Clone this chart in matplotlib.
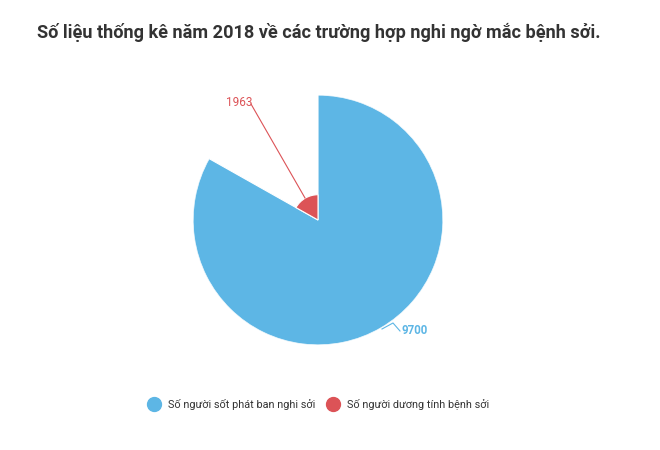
import numpy as np
import matplotlib.pyplot as plt
from matplotlib.lines import Line2D

plt.rcParams['font.family'] = ['Roboto', 'DejaVu Sans']

title = "Số liệu thống kê năm 2018 về các trường hợp nghi ngờ mắc bệnh sởi."
categories = ["Số người sốt phát ban nghi sởi", "Số người dương tính bệnh sởi"]
values = [9700, 1963]
colors = ["#5db6e5", "#dc5357"]

W, H = 660, 450


def px(x, y):
    # pixel coords (from top-left) -> figure fraction
    return x / W, 1 - y / H


fig = plt.figure(figsize=(6.6, 4.5), dpi=100)

cx, cy, R = 318, 220, 125
l, b = px(cx - R, cy + R)
ax = fig.add_axes([l, b, 2 * R / W, 2 * R / H], projection="polar")
ax.set_theta_zero_location("N")
ax.set_theta_direction(-1)

vals = np.array(values, dtype=float)
widths = vals / vals.sum() * 2 * np.pi
starts = np.concatenate([[0], np.cumsum(widths)[:-1]])
ax.bar(starts, vals, width=widths, align="edge", color=colors,
       edgecolor="white", linewidth=0.8)
ax.set_ylim(0, vals.max())
ax.set_axis_off()

# labels with leader lines
fig.add_artist(Line2D([305 / W, 251 / W], [1 - 198 / H, 1 - 104 / H],
                      color=colors[1], lw=0.8))
fig.text(*px(239.5, 102), str(values[1]), color=colors[1], fontsize=8.5,
         ha="center", va="center")

xs = [382, 393, 400]
ys = [329, 323, 331]
fig.add_artist(Line2D([x / W for x in xs], [1 - y / H for y in ys],
                      color=colors[0], lw=0.8))
fig.text(*px(401, 331), str(values[0]), color=colors[0], fontsize=8.3,
         ha="left", va="center", fontweight="bold")

fig.text(*px(37, 32), title, fontsize=13.05, fontweight="bold",
         color="#333333", ha="left", va="center")

handles = [Line2D([], [], marker="o", ls="", markersize=10,
                  markerfacecolor=c, markeredgecolor=c) for c in colors]
fig.legend(handles, categories, loc="center", bbox_to_anchor=px(316, 404),
           ncol=2, frameon=False, fontsize=7.8, labelcolor="#333333",
           handletextpad=0.3, columnspacing=0.6)

fig.savefig("out.png", dpi=100)
